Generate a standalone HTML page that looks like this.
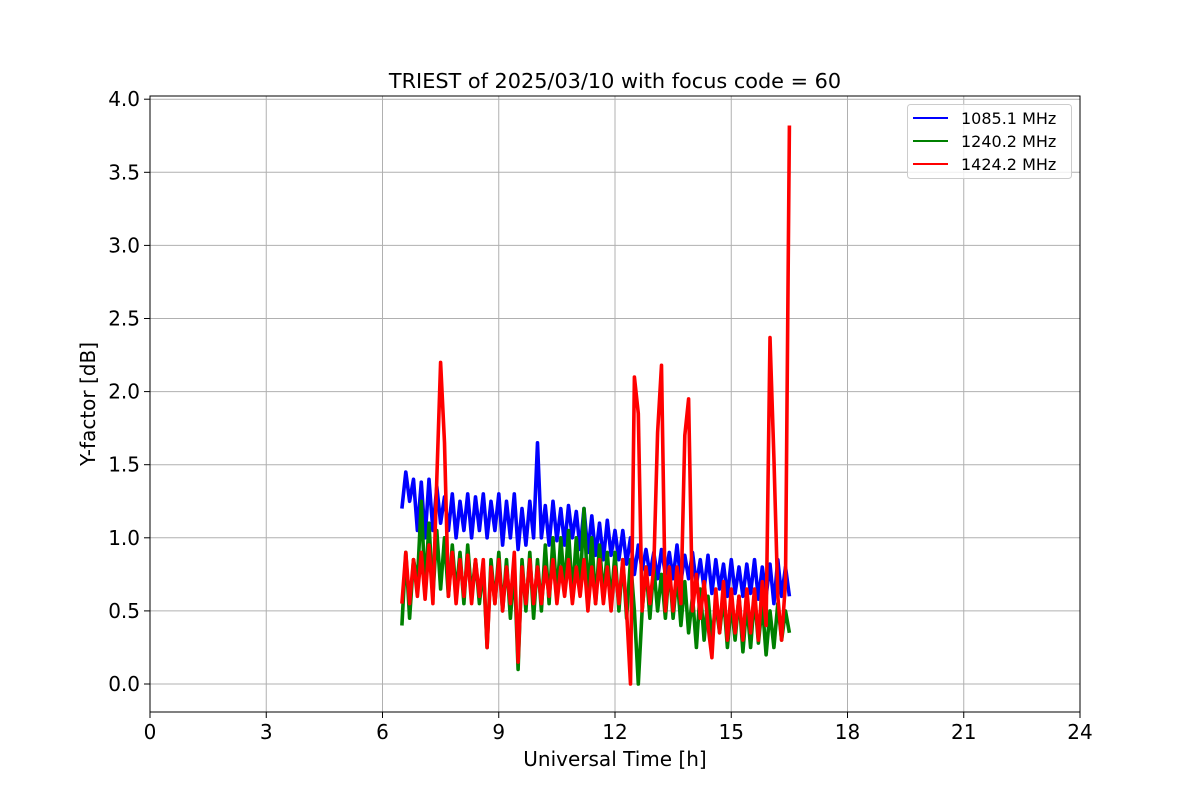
<!DOCTYPE html>
<html><head><meta charset="utf-8"><style>
body{margin:0;background:#fff}
svg{display:block;font-family:"DejaVu Sans","Liberation Sans",sans-serif}
</style></head><body>
<svg id="chart" width="1200" height="800" viewBox="0 0 1200 800" xmlns="http://www.w3.org/2000/svg">
<rect width="1200" height="800" fill="#fff"/>
<g id="grid"></g>
<g id="series"></g>
<rect x="150" y="96" width="930" height="616" fill="none" stroke="#000" stroke-width="1"/>
<g id="ticks"></g>
<text x="615" y="88" font-size="20.8" text-anchor="middle">TRIEST of 2025/03/10 with focus code = 60</text>
<text x="615" y="766" font-size="20" text-anchor="middle">Universal Time [h]</text>
<text x="95" y="404" font-size="20" text-anchor="middle" transform="rotate(-90 95 404)">Y-factor [dB]</text>
<g>
<rect x="907.5" y="104.5" width="164" height="74" rx="3" fill="#fff" fill-opacity="0.8" stroke="#ccc"/>
<g><line x1="913" y1="118" x2="948" y2="118" stroke="#0000ff" stroke-width="2"/><text x="961" y="124" font-size="16">1085.1 MHz</text></g>
<g><line x1="913" y1="141" x2="948" y2="141" stroke="#008000" stroke-width="2"/><text x="961" y="147" font-size="16">1240.2 MHz</text></g>
<g><line x1="913" y1="164" x2="948" y2="164" stroke="#ff0000" stroke-width="2"/><text x="961" y="170" font-size="16">1424.2 MHz</text></g>
</g>
</svg>
<script>
const xTicks=[0,3,6,9,12,15,18,21,24];
const yTicks=[0,0.5,1,1.5,2,2.5,3,3.5,4];
const yTickLabels=["0.0","0.5","1.0","1.5","2.0","2.5","3.0","3.5","4.0"];
const tStart=6.5, tStep=0.1;
const blue=[1.20,1.45,1.25,1.40,1.05,1.38,1.00,1.40,1.05,1.35,
1.10,1.28,1.05,1.30,1.00,1.25,1.05,1.30,1.00,1.28,
1.05,1.30,1.00,1.25,1.05,1.30,0.95,1.25,1.00,1.30,
0.92,1.20,0.95,1.25,1.00,1.65,1.00,1.22,0.95,1.25,
0.98,1.20,0.95,1.22,1.00,1.18,0.92,1.20,0.90,1.15,
0.88,1.10,0.85,1.12,0.88,1.05,0.85,1.05,0.82,1.00,
0.75,0.95,0.78,0.92,0.75,0.90,0.72,0.92,0.75,0.90,
0.72,0.95,0.70,0.88,0.72,0.90,0.68,0.85,0.65,0.88,
0.62,0.85,0.65,0.82,0.60,0.85,0.62,0.80,0.60,0.82,
0.62,0.85,0.58,0.80,0.60,0.82,0.55,0.85,0.60,0.80,0.60];
const green=[0.40,0.90,0.45,0.85,0.70,1.25,0.65,1.10,0.60,1.05,
0.65,1.00,0.60,0.95,0.62,0.90,0.55,0.95,0.60,0.85,
0.55,0.80,0.25,0.85,0.55,0.90,0.50,0.85,0.45,0.80,
0.10,0.85,0.50,0.90,0.45,0.85,0.50,0.95,0.55,1.00,
0.60,1.00,0.65,1.05,0.60,1.00,0.65,1.20,0.60,1.00,
0.55,0.95,0.60,0.90,0.55,0.90,0.50,0.85,0.45,0.85,
0.50,0.00,0.50,0.80,0.45,0.80,0.50,0.75,0.45,0.80,
0.45,0.75,0.40,0.70,0.35,0.60,0.25,0.65,0.30,0.60,
0.30,0.55,0.35,0.60,0.25,0.55,0.30,0.60,0.22,0.55,
0.25,0.60,0.28,0.55,0.20,0.50,0.25,0.55,0.30,0.50,0.35];
const red=[0.55,0.90,0.55,0.85,0.60,0.90,0.58,0.95,0.55,1.40,
2.20,1.65,0.60,0.90,0.55,0.85,0.60,0.88,0.55,0.85,
0.60,0.85,0.25,0.80,0.55,0.85,0.50,0.80,0.55,0.90,
0.15,0.80,0.55,0.85,0.55,0.80,0.55,0.80,0.60,0.85,
0.55,0.80,0.60,0.85,0.55,0.80,0.60,0.85,0.50,0.80,
0.55,0.85,0.55,0.80,0.50,0.80,0.55,0.85,0.50,0.00,
2.10,1.85,0.50,0.80,0.55,0.80,1.72,2.18,0.50,0.80,
0.50,0.80,0.55,1.70,1.95,0.50,0.75,0.45,0.70,0.40,
0.18,0.65,0.35,0.70,0.30,0.65,0.35,0.60,0.30,0.65,
0.35,0.65,0.30,0.70,0.40,2.37,1.55,0.60,0.30,0.70,3.82];
const NS="http://www.w3.org/2000/svg";
const X=t=>150+t/24*930;
const Y=v=>684-v*146.2;
const grid=document.getElementById('grid'),ticks=document.getElementById('ticks'),ser=document.getElementById('series');
function mk(tag,attrs,parent){const e=document.createElementNS(NS,tag);for(const k in attrs)e.setAttribute(k,attrs[k]);parent.appendChild(e);return e;}
xTicks.forEach(t=>{
 const g=mk('line',{x1:X(t),x2:X(t),y1:96,y2:712,stroke:'#b0b0b0','stroke-width':1},grid);
 
 
 const tk=mk('line',{x1:X(t),x2:X(t),y1:712,y2:718,stroke:'#000'},ticks);
 
 
 const tx=mk('text',{x:X(t),y:739,'font-size':20,'text-anchor':'middle'},ticks);tx.textContent=t;
 
 
});
yTicks.forEach((v,i)=>{
 const g=mk('line',{x1:150,x2:1080,y1:Y(v),y2:Y(v),stroke:'#b0b0b0','stroke-width':1},grid);
 
 
 const tk=mk('line',{x1:144,x2:150,y1:Y(v),y2:Y(v),stroke:'#000'},ticks);
 
 
 const tx=mk('text',{x:140,y:Y(v)+7,'font-size':20,'text-anchor':'end'},ticks);tx.textContent=yTickLabels[i];
 
 
});
[[blue,'#0000ff','series-1085'],[green,'#008000','series-1240'],[red,'#ff0000','series-1424']].forEach(([arr,c,n])=>{
 const pts=arr.map((v,i)=>X(tStart+i*tStep).toFixed(1)+','+Y(v).toFixed(1)).join(' ');
 const p=mk('polyline',{points:pts,fill:'none',stroke:c,'stroke-width':3.6,'stroke-linejoin':'round'},ser);
 
 
});
</script>
</body></html>
